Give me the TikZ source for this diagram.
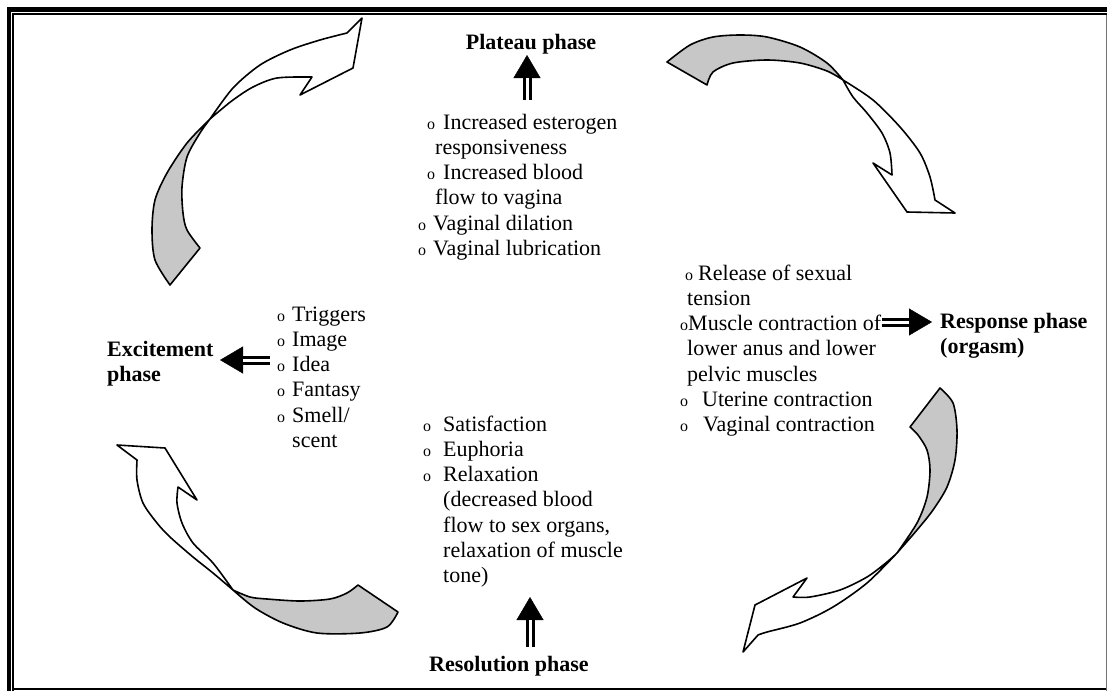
\documentclass[tikz,border=0pt]{standalone}
\usepackage{fontspec}
\setmainfont{Liberation Serif}
\usetikzlibrary{arrows.meta}

\newcommand{\bul}{\makebox[8pt][l]{\fontsize{16}{16}\selectfont o}}

\tikzset{
  txt/.style={inner sep=0pt, align=left, font=\fontsize{22}{25.3}\selectfont},
  phase/.style={inner sep=0pt, align=left, font=\fontsize{22}{25.3}\selectfont\bfseries},
  head/.style={line width=0.4pt, -{Triangle[width=27pt,length=23pt]}},
  shaft/.style={double, double distance=3pt, line width=3pt, shorten >=23pt},
  ribbon/.style={draw=black, line width=1.6pt, line join=round},
  under/.style={ribbon, fill=black!22},
  over/.style={ribbon, fill=white},
}

\begin{document}
\begin{tikzpicture}[x=1pt,y=-1pt]
\useasboundingbox (0,0) rectangle (1107,691);
\fill[white] (0,0) rectangle (1107,691);
\draw[line width=4.5pt] (9,691) -- (9,9.7) -- (1107,9.7);
\draw[line width=2pt] (13.2,691) -- (13.2,14.3) -- (1107,14.3);
\draw[line width=1.7pt] (13,689) -- (1107,689);
\draw[black!55, line width=1pt] (1106,15) -- (1106,691);

\node[phase, anchor=base] (plateau) at (531,49) {Plateau phase};
\node[phase, anchor=base west] (response) at (940,353.3) {Response phase\\(orgasm)};
\node[phase, anchor=base] (resolution) at (509,671) {Resolution phase};
\node[phase, anchor=base west] (excitement) at (107,381.3) {Excitement\\phase};

\node[txt, anchor=base west] (plateauList) at (418,255.5) {\hspace*{9pt}\bul\hspace*{8pt}Increased esterogen\\ \hspace*{17pt}responsiveness\\ \hspace*{9pt}\bul\hspace*{8pt}Increased blood\\ \hspace*{17pt}flow to vagina\\ \bul\hspace*{7pt}Vaginal dilation\\ \bul\hspace*{7pt}Vaginal lubrication};
\node[txt, anchor=base west] (responseList) at (680,431.8) {\hspace*{5pt}\bul\hspace*{5pt}Release of sexual\\ \hspace*{7pt}tension\\ \bul Muscle contraction of\\ \hspace*{7pt}lower anus and lower\\ \hspace*{7pt}pelvic muscles\\ \bul\hspace*{14pt}Uterine contraction\\ \bul\hspace*{15pt}Vaginal contraction};
\node[txt, anchor=base west] (resolutionList) at (423,582.8) {\bul\hspace*{12pt}Satisfaction\\ \bul\hspace*{12pt}Euphoria\\ \bul\hspace*{12pt}Relaxation\\ \hspace*{20pt}(decreased blood\\ \hspace*{20pt}flow to sex organs,\\ \hspace*{20pt}relaxation of muscle\\ \hspace*{20pt}tone)};
\node[txt, anchor=base west] (excitementList) at (277,447.5) {\bul\hspace*{7pt}Triggers\\ \bul\hspace*{7pt}Image\\ \bul\hspace*{7pt}Idea\\ \bul\hspace*{7pt}Fantasy\\ \bul\hspace*{7pt}Smell/\\ \hspace*{15pt}scent};

\coordinate (plateauTail) at (527,100);
\coordinate (plateauTip) at (527,55);
\coordinate (responseTail) at (882,322);
\coordinate (responseTip) at (932,322);
\coordinate (resolutionTail) at (530,647);
\coordinate (resolutionTip) at (530,597);
\coordinate (excitementTail) at (270,360);
\coordinate (excitementTip) at (220,360);

\draw[head] (plateauTail) -- (plateauTip);
\draw[shaft] (plateauTail) -- (plateauTip);
\draw[head] (responseTail) -- (responseTip);
\draw[shaft] (responseTail) -- (responseTip);
\draw[head] (resolutionTail) -- (resolutionTip);
\draw[shaft] (resolutionTail) -- (resolutionTip);
\draw[head] (excitementTail) -- (excitementTip);
\draw[shaft] (excitementTail) -- (excitementTip);

\draw[under] plot[smooth] coordinates {(170,285) (155,260) (152,230) (155,200) (167,173) (187,143) (210,119)}
  -- plot[smooth] coordinates {(210,119) (200,133) (187,157) (182,187) (183,213) (187,230) (200,248)} -- cycle;
\draw[over] plot[smooth] coordinates {(210,119) (233,88) (260,65) (290,50) (320,40) (347,33)}
  -- (362,18) -- (353,68) -- (300,95) -- (312,77)
  -- plot[smooth] coordinates {(312,77) (277,78) (253,87) (233,100) (217,113) (210,119)} -- cycle;

\draw[under] plot[smooth] coordinates {(667,62) (690,45) (713,37) (740,35) (767,37) (800,47) (827,63) (843,80)}
  -- plot[smooth] coordinates {(843,80) (827,71) (800,63) (767,60) (733,63) (713,72) (707,85)} -- cycle;
\draw[over] plot[smooth] coordinates {(843,80) (873,100) (900,127) (920,153) (930,177) (935,200)}
  -- (955,213) -- (907,212) -- (873,163) -- (892,175)
  -- plot[smooth] coordinates {(892,175) (890,153) (882,133) (867,113) (853,97) (843,80)} -- cycle;

\draw[under] plot[smooth] coordinates {(940,388) (953,403) (957,430) (955,460) (947,487) (933,510) (917,530) (897,553)}
  -- plot[smooth] coordinates {(897,553) (917,523) (927,497) (930,470) (927,450) (918,435) (910,427)} -- cycle;
\draw[over] plot[smooth] coordinates {(897,553) (867,583) (833,607) (800,623) (767,632) (758,635)}
  -- (743,652) -- (755,605) -- (807,578) -- (793,597)
  -- plot[smooth] coordinates {(793,597) (810,597) (840,590) (867,577) (887,562) (897,553)} -- cycle;

\draw[under] plot[smooth] coordinates {(233,590) (250,597) (267,599) (300,601) (330,599) (347,593) (358,585)}
  -- (398,612) -- plot[smooth] coordinates {(398,612) (387,627) (360,633) (317,633) (283,623) (255,608) (233,590)} -- cycle;
\draw[over] plot[smooth] coordinates {(233,590) (213,573) (193,557) (170,537) (157,523) (143,503) (137,480) (137,460)}
  -- (117,445) -- (165,448) -- (197,500) -- (178,487)
  -- plot[smooth] coordinates {(178,487) (177,503) (182,523) (193,543) (213,563) (233,590)} -- cycle;
\end{tikzpicture}
\end{document}
